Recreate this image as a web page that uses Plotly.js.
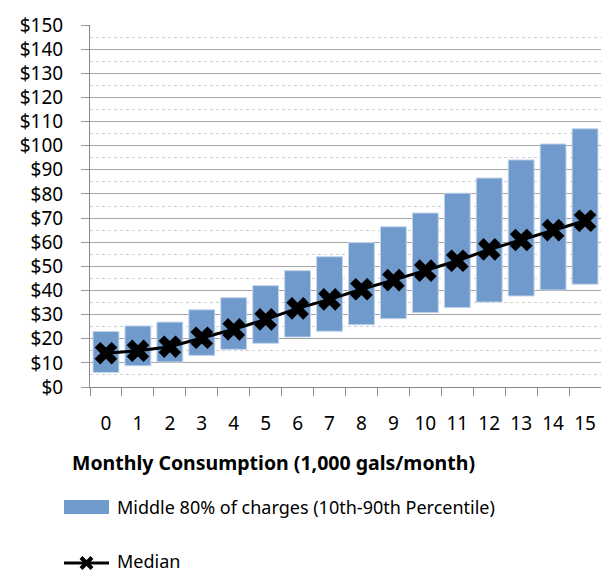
<!DOCTYPE html>
<html>
<head>
<meta charset="utf-8">
<script src="https://cdn.plot.ly/plotly-3.0.1.min.js"></script>
<style>html,body{margin:0;padding:0;background:#fff;}#chart{width:601px;height:572px;}</style>
</head>
<body>
<div id="chart"></div>
<script>
var categories = ["0","1","2","3","4","5","6","7","8","9","10","11","12","13","14","15"];
var p10 = [6, 8.8, 10.4, 13.1, 15.6, 18.1, 20.7, 23.1, 25.8, 28.3, 30.8, 32.9, 35.2, 37.7, 40.2, 42.6];
var p90 = [23, 25.3, 26.9, 32, 37, 42, 48.2, 54, 59.8, 66.4, 72.1, 80.3, 86.6, 94.1, 100.7, 107];
var median = [14, 15, 16.7, 20.4, 23.9, 28, 32.6, 36.3, 40.5, 44.3, 48.2, 52.3, 57, 60.9, 65, 68.9];
var yTickVals = [0,10,20,30,40,50,60,70,80,90,100,110,120,130,140,150];
var yTickText = ["&#36;0","&#36;10","&#36;20","&#36;30","&#36;40","&#36;50","&#36;60","&#36;70","&#36;80","&#36;90","&#36;100","&#36;110","&#36;120","&#36;130","&#36;140","&#36;150"];
var seriesNames = ["Middle 80% of charges (10th-90th Percentile)", "Median"];
var xTitle = "Monthly Consumption (1,000 gals/month)";

var heights = p90.map(function(v, i){ return v - p10[i]; });
var FONT = "Noto Sans, Open Sans, sans-serif";

var barTrace = {
  type: "bar", x: categories, y: heights, base: p10, name: seriesNames[0],
  marker: {color: "rgb(112,153,204)", line: {color: "rgb(196,213,236)", width: 1}},
  showlegend: false, hoverinfo: "skip"
};
var medTrace = {
  type: "scatter", mode: "lines+markers", x: categories, y: median, name: seriesNames[1],
  line: {color: "#000", width: 3},
  marker: {symbol: "x", size: 20, color: "#000", line: {width: 0}},
  showlegend: false, hoverinfo: "skip"
};

var L = 90, R = 0, T = 25, B = 185, W = 601, H = 572;
var pw = W - L - R, ph = H - T - B;
function px(x){ return (x - L) / pw; }
function py(y){ return (H - B - y) / ph; }

var layout = {
  width: W, height: H,
  margin: {l: L, r: R, t: T, b: B, pad: 0},
  paper_bgcolor: "#fff", plot_bgcolor: "#fff",
  font: {family: FONT, size: 19, color: "#000"},
  bargap: 0.19,
  xaxis: {
    type: "category", tickson: "boundaries", ticks: "outside", ticklen: 8, tickcolor: "#888",
    showline: true, linecolor: "#888", linewidth: 1, showgrid: false,
    ticklabelstandoff: 19, tickangle: 0,
    tickfont: {family: FONT, size: 19}, range: [-0.5, 15.5], fixedrange: true
  },
  yaxis: {
    range: [0, 150], tickvals: yTickVals, ticktext: yTickText, ticks: "outside", ticklen: 8, tickcolor: "#999",
    showline: true, linecolor: "#888", linewidth: 1,
    showgrid: true, gridcolor: "#a6a6a6", gridwidth: 1, zeroline: false,
    ticklabelstandoff: 14,
    minor: {dtick: 5, showgrid: true, gridcolor: "#d0d0d0", griddash: "dot", gridwidth: 1},
    tickfont: {family: FONT, size: 19}, fixedrange: true
  },
  shapes: [
    {type: "rect", xref: "paper", yref: "paper", x0: px(64), x1: px(109), y0: py(500), y1: py(514),
     fillcolor: "rgb(112,153,204)", line: {width: 0}},
    {type: "line", xref: "paper", yref: "paper", x0: px(64), x1: px(109), y0: py(563), y1: py(563),
     line: {color: "#000", width: 3}},
    {type: "line", xref: "paper", yref: "paper", x0: px(81), x1: px(92), y0: py(557.5), y1: py(568.5),
     line: {color: "#000", width: 4}},
    {type: "line", xref: "paper", yref: "paper", x0: px(81), x1: px(92), y0: py(568.5), y1: py(557.5),
     line: {color: "#000", width: 4}}
  ],
  annotations: [
    {xref: "paper", yref: "paper", x: px(273), y: py(462), text: "<b>" + xTitle + "</b>", showarrow: false,
     xanchor: "center", yanchor: "middle", font: {family: FONT, size: 19.5}},
    {xref: "paper", yref: "paper", x: px(115), y: py(507), text: seriesNames[0], showarrow: false,
     xanchor: "left", yanchor: "middle", font: {family: FONT, size: 18}},
    {xref: "paper", yref: "paper", x: px(115), y: py(561), text: seriesNames[1], showarrow: false,
     xanchor: "left", yanchor: "middle", font: {family: FONT, size: 18}}
  ]
};

Plotly.newPlot("chart", [barTrace, medTrace], layout, {displayModeBar: false, staticPlot: true});
</script>
</body>
</html>
